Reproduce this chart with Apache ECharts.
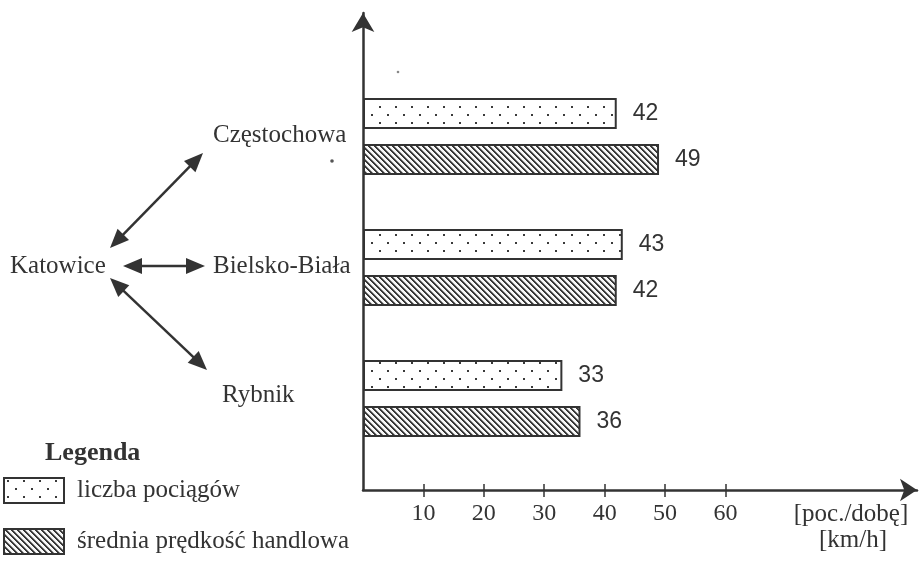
<!DOCTYPE html>
<html><head><meta charset="utf-8">
<script src="https://cdn.jsdelivr.net/npm/echarts@6/dist/echarts.min.js"></script>
<style>html,body{margin:0;padding:0;background:#fff}#c{width:919px;height:564px}</style>
</head><body><div id="c"></div>
<script>
const categories = ['Częstochowa', 'Bielsko-Biała', 'Rybnik'];
const hub = 'Katowice';
const trains = [42, 43, 33];
const speed = [49, 42, 36];
const xTicks = [10, 20, 30, 40, 50, 60];
const seriesNames = ['liczba pociągów', 'średnia prędkość handlowa'];
const unitTrains = '[poc./dobę]';
const unitSpeed = '[km/h]';
const legendTitle = 'Legenda';

const INK = '#333333';
const SERIF = '"Liberation Serif", "Times New Roman", serif';
const SANS = '"Liberation Sans", Arial, sans-serif';

function dotPattern() {
  const c = document.createElement('canvas');
  c.width = 16; c.height = 16;
  const g = c.getContext('2d');
  g.fillStyle = '#fff'; g.fillRect(0, 0, 16, 16);
  g.fillStyle = '#3a3a3a';
  g.fillRect(3, 2, 2, 2);
  g.fillRect(11, 10, 2, 2);
  return c;
}
function hatchPattern() {
  const n = 6, w = 2;
  const c = document.createElement('canvas');
  c.width = n; c.height = n;
  const g = c.getContext('2d');
  const img = g.createImageData(n, n);
  for (let y = 0; y < n; y++) for (let x = 0; x < n; x++) {
    const d = ((x - y) % n + n) % n;
    const v = d < w ? 55 : (d === w ? 150 : 248);
    const i = (y * n + x) * 4;
    img.data[i] = v; img.data[i + 1] = v; img.data[i + 2] = v; img.data[i + 3] = 255;
  }
  g.putImageData(img, 0, 0);
  return c;
}

function arrow(x1, y1, x2, y2) {
  const L = 19, H = 8;
  const dx = x2 - x1, dy = y2 - y1, len = Math.hypot(dx, dy);
  const ux = dx / len, uy = dy / len, px = -uy, py = ux;
  const head = (tx, ty, sx, sy) => ({
    type: 'polygon',
    shape: { points: [[tx, ty], [tx - sx * L + px * H, ty - sy * L + py * H], [tx - sx * L - px * H, ty - sy * L - py * H]] },
    style: { fill: INK }
  });
  return [
    { type: 'line', shape: { x1: x1 + ux * 10, y1: y1 + uy * 10, x2: x2 - ux * 10, y2: y2 - uy * 10 }, style: { stroke: INK, lineWidth: 2.5 } },
    head(x2, y2, ux, uy),
    head(x1, y1, -ux, -uy)
  ];
}

const txt = (s, x, y, align) => ({
  type: 'text', x: x, y: y,
  style: { text: s, fill: INK, font: '25px ' + SERIF, textAlign: align || 'left', textVerticalAlign: 'middle' }
});

const chart = echarts.init(document.getElementById('c'), null, { renderer: 'canvas' });
const dotFill = { image: dotPattern(), repeat: 'repeat' };
const hatchFill = { image: hatchPattern(), repeat: 'repeat' };

const gridLeft = 363, gridRight = 2, xMax = 91.7;

chart.setOption({
  backgroundColor: '#fff',
  animation: false,
  title: {
    text: legendTitle, left: 45, top: 440, padding: 0,
    textStyle: { fontFamily: SERIF, fontWeight: 'bold', fontSize: 26, color: INK }
  },
  legend: {
    data: seriesNames, icon: 'rect',
    orient: 'vertical', left: 3, top: 477, padding: 0,
    itemWidth: 60, itemHeight: 25, itemGap: 24,
    textStyle: { fontFamily: SERIF, fontSize: 25, color: INK, padding: [0, 0, 0, 8], lineHeight: 25 }
  },
  grid: [
    { left: gridLeft, right: gridRight, top: 71, bottom: 100 },
    { left: gridLeft, right: gridRight, top: 13, bottom: 74 }
  ],
  xAxis: [
    { gridIndex: 0, type: 'value', min: 0, max: xMax, show: false },
    {
      gridIndex: 1, type: 'value', min: 0, max: xMax,
      axisLine: { show: true, symbol: ['none', 'arrow'], symbolSize: [17, 17], lineStyle: { color: INK, width: 2.5 } },
      axisTick: { show: true, length: 7, customValues: xTicks, lineStyle: { color: INK, width: 1.5 } },
      axisLabel: { show: true, customValues: xTicks, margin: 12, fontFamily: SERIF, fontSize: 24, color: INK },
      splitLine: { show: false }
    },
    {
      gridIndex: 1, type: 'value', min: 0, max: xMax, position: 'bottom',
      axisLine: { show: false },
      axisTick: { show: true, inside: true, length: 6, customValues: xTicks, lineStyle: { color: INK, width: 1.5 } },
      axisLabel: { show: false },
      splitLine: { show: false }
    }
  ],
  yAxis: [
    { gridIndex: 0, type: 'category', data: categories, inverse: true, show: false },
    {
      gridIndex: 1, type: 'value', min: 0, max: 1,
      axisLine: { show: true, symbol: ['none', 'arrow'], symbolSize: [17, 19], lineStyle: { color: INK, width: 2.5 } },
      axisTick: { show: false }, axisLabel: { show: false }, splitLine: { show: false }
    }
  ],
  series: [
    {
      name: seriesNames[0], type: 'bar', xAxisIndex: 0, yAxisIndex: 0,
      data: trains, barWidth: 31, barGap: '48%',
      itemStyle: { color: dotFill, borderColor: INK, borderWidth: 2 },
      label: { show: true, position: 'right', distance: 16, fontFamily: SANS, fontSize: 23, color: INK }
    },
    {
      name: seriesNames[1], type: 'bar', xAxisIndex: 0, yAxisIndex: 0,
      data: speed, barWidth: 31, barGap: '48%',
      itemStyle: { color: hatchFill, borderColor: INK, borderWidth: 2 },
      label: { show: true, position: 'right', distance: 16, fontFamily: SANS, fontSize: 23, color: INK }
    }
  ],
  graphic: [].concat(
    arrow(110, 248, 203, 153),
    arrow(123, 266, 205, 266),
    arrow(110, 278, 207, 370),
    [
      txt(hub, 10, 266),
      txt(categories[0], 213, 135),
      txt(categories[1], 213, 266),
      txt(categories[2], 222, 395),
      txt(unitTrains, 851, 514, 'center'),
      txt(unitSpeed, 853, 540, 'center'),
      { type: 'circle', shape: { cx: 332, cy: 161, r: 1.8 }, style: { fill: '#555' } },
      { type: 'circle', shape: { cx: 398, cy: 72, r: 1.3 }, style: { fill: '#888' } }
    ]
  )
});
</script>
</body></html>
